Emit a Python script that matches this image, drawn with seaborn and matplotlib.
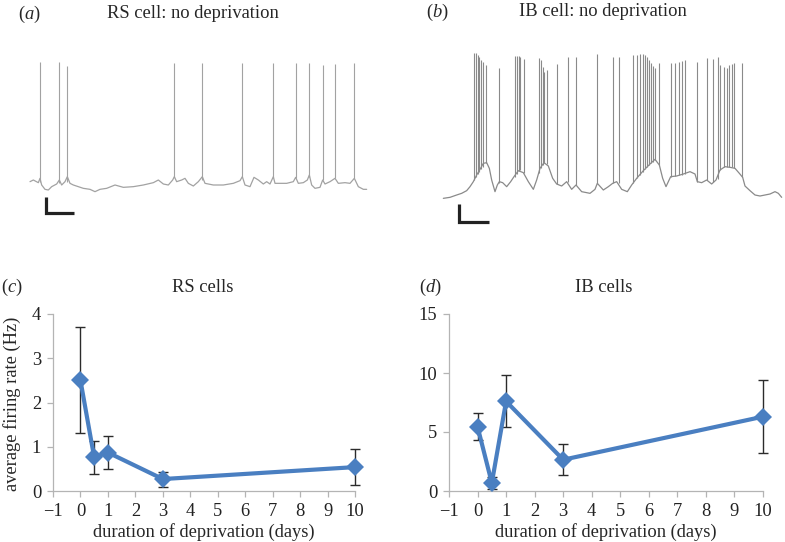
import matplotlib
matplotlib.use("Agg")
import matplotlib.pyplot as plt
import seaborn as sns
import pandas as pd

# ---- firing-rate summary (panels c, d) ----
days = [0, 0.5, 1, 3, 10]
rs_rate = [2.5, 0.76, 0.87, 0.27, 0.54]
rs_err = [1.2, 0.37, 0.37, 0.17, 0.40]
ib_rate = [5.45, 0.68, 7.6, 2.65, 6.3]
ib_err = [1.15, 0.47, 2.2, 1.3, 3.1]

# ---- example voltage traces (panels a, b), time in s, voltage in mV ----
rs_base_t = [0.90, 1.00, 1.15, 1.20, 1.25, 1.35, 1.45, 1.55, 1.70, 1.78, 1.85, 1.95,
             2.02, 2.10, 2.20, 2.35, 2.50, 2.70, 2.85, 3.00, 3.20, 3.45, 3.70, 4.00,
             4.30, 4.60, 4.75, 4.90, 5.05, 5.18, 5.23, 5.30, 5.45, 5.55, 5.65, 5.80,
             5.95, 6.07, 6.15, 6.40, 6.70, 7.00, 7.20, 7.27, 7.35, 7.50, 7.62, 7.75,
             7.90, 8.00, 8.10, 8.20, 8.25, 8.40, 8.60, 8.80, 8.87, 8.95, 9.10, 9.22,
             9.28, 9.35, 9.45, 9.60, 9.68, 9.75, 9.90, 10.05, 10.15, 10.35, 10.50,
             10.63, 10.75, 10.90, 11.00]
rs_base_v = [-59, -58, -59.6, -57, -61, -63.6, -64, -62, -60.4, -58, -61, -59,
             -56, -60, -61, -62, -63, -63.6, -65, -63.6, -63, -61, -62.4, -62,
             -61, -59.6, -58, -60.4, -61, -58, -56, -59, -58, -57, -60, -61.6,
             -59, -56, -60, -61, -61, -60, -58.4, -56, -61, -62, -56.4, -58,
             -60.4, -59, -60.4, -56, -60, -60, -60, -59, -56.4, -60, -59.6, -58,
             -55, -61, -63, -62.4, -58, -60.4, -59, -57, -60, -59.6, -60,
             -57, -62, -63.6, -63.6]
rs_spike_t = [1.20, 1.78, 2.02, 5.23, 6.07, 7.27, 8.20, 8.87, 9.28, 9.68, 10.05, 10.63]
rs_spike_base = [-59, -59.6, -59, -56, -58, -56, -56, -57, -56, -58, -57, -57]
rs_spike_peak = [12.8, 12.8, 10.6, 12, 12, 12.4, 12, 12.4, 12, 11, 11.6, 12]

ib_base_t = [1.60, 1.80, 2.00, 2.15, 2.30, 2.40, 2.50, 2.60, 2.70, 2.80, 2.90, 2.98,
             3.05, 3.15, 3.22, 3.28, 3.38, 3.50, 3.62, 3.72, 3.85, 4.00, 4.15, 4.30,
             4.40, 4.50, 4.62, 4.75, 4.88, 5.00, 5.15, 5.30, 5.45, 5.58, 5.75, 6.00,
             6.15, 6.22, 6.40, 6.55, 6.68, 6.80, 6.95, 7.12, 7.25, 7.40, 7.60, 7.80,
             7.95, 8.08, 8.18, 8.28, 8.42, 8.60, 8.80, 9.00, 9.15, 9.22, 9.35, 9.50,
             9.65, 9.78, 9.90, 10.05, 10.20, 10.35, 10.48, 10.58, 10.65, 10.80,
             10.95, 11.10, 11.25, 11.40, 11.55, 11.65, 11.75]
ib_base_v = [-69, -68.4, -67, -66, -64.4, -62, -59, -55, -51.6, -48, -47.6, -51,
             -58, -65, -61, -59, -59.6, -62, -59, -56, -52.4, -53.6, -59, -63.6,
             -58, -51, -47.6, -49.6, -57, -60.4, -61.6, -59, -63.6, -61, -65, -66,
             -63.6, -60, -64, -62, -60, -59, -63.6, -65, -61, -57, -52.4, -48.4,
             -45.6, -49, -57, -62, -56, -55.6, -54.4, -53, -54.4, -59, -59.6, -58,
             -60.4, -58, -52, -50, -50.4, -51, -54, -56.4, -61.6, -64.4,
             -67, -67.6, -67, -66.4, -65, -66, -68.4]
ib_spike_t = [2.53, 2.58, 2.63, 2.68, 2.73, 2.78, 2.87, 3.28, 3.75, 3.80, 3.86, 3.90,
              4.02, 4.46, 4.52, 4.58, 4.63, 4.70, 5.00, 5.33, 5.58, 6.22, 6.68, 6.88,
              7.30, 7.40, 7.50, 7.58, 7.65, 7.72, 7.78, 7.84, 7.90, 7.96, 8.08, 8.42,
              8.56, 8.68, 8.76, 8.84, 9.22, 9.50, 9.70, 9.85, 9.90, 10.02, 10.10,
              10.18, 10.26, 10.32, 10.55]
ib_spike_base = [-58, -56, -54.4, -53, -51.6, -50, -47.6, -59.6, -56, -54.4, -52.4, -52,
                 -53.6, -54, -51, -49, -47.6, -48.4, -60.4, -59, -61, -60, -60, -59.6,
                 -60, -57, -55, -53, -51.6, -50, -49, -48, -47, -46, -49, -56,
                 -55.6, -55, -55, -54.4, -59, -58, -59, -57.6, -52, -50.4, -50,
                 -50, -50.4, -51, -56]
ib_spike_peak = [18, 18.4, 17, 16, 14, 13, 11, 9, 16.4, 16.4, 16.4, 16,
                 14.4, 15.4, 14, 10, 7, 8, 11.6, 16, 16, 17.4, 16, 16,
                 17, 17, 17.6, 17.6, 17, 15.6, 14, 12, 10.4, 9, 12.2, 12.4,
                 12, 13, 13.6, 14, 13, 15, 14.8, 16, 11, 10, 9,
                 11, 11.6, 12, 12]

# scale bars: (start time, start voltage, time length, voltage length)
rs_bar = [1.38, -78, 0.84, 10]
ib_bar = [2.07, -83, 0.90, 10.6]

sns.set_theme(style="white")
plt.rcParams["font.family"] = "serif"
plt.rcParams["font.serif"] = ["Liberation Serif", "DejaVu Serif"]
plt.rcParams["mathtext.fontset"] = "custom"
plt.rcParams["mathtext.rm"] = "Liberation Serif"
plt.rcParams["mathtext.it"] = "Liberation Serif:italic"
plt.rcParams["axes.unicode_minus"] = True

W, H = 785, 542
fig = plt.figure(figsize=(W / 100, H / 100), dpi=100)


def px_axes(x0, y0, x1, y1):
    return fig.add_axes([x0 / W, 1 - y1 / H, (x1 - x0) / W, (y1 - y0) / H])


def draw_trace(ax, base_t, base_v, sp_t, sp_b, sp_p, bar, color, xmax):
    df = pd.DataFrame({"t": base_t, "v": base_v})
    sns.lineplot(data=df, x="t", y="v", ax=ax, color=color, lw=0.9,
                 sort=False, estimator=None)
    ax.vlines(sp_t, sp_b, sp_p, color=color, lw=0.8)
    t0, v0, dt, dv = bar
    ax.plot([t0, t0, t0 + dt], [v0 + dv, v0, v0], color="#222222", lw=2.3,
            solid_joinstyle="miter", solid_capstyle="butt")
    ax.set_xlim(0, xmax)
    ax.set_ylim(-88, 50)
    ax.axis("off")


ax_a = px_axes(0, 0, 390, 230)
draw_trace(ax_a, rs_base_t, rs_base_v, rs_spike_t, rs_spike_base, rs_spike_peak,
           rs_bar, "#a2a2a2", 11.7)
ax_b = px_axes(390, 0, 785, 230)
draw_trace(ax_b, ib_base_t, ib_base_v, ib_spike_t, ib_spike_base, ib_spike_peak,
           ib_bar, "#8a8a8a", 11.85)

fs = 13.3
fig.text(29 / W, 1 - 14 / H, "($\\it{a}$)", fontsize=fs, ha="center", va="center")
fig.text(193 / W, 1 - 14 / H, "RS cell: no deprivation", fontsize=fs, ha="center", va="center")
fig.text(437 / W, 1 - 12 / H, "($\\it{b}$)", fontsize=fs, ha="center", va="center")
fig.text(603 / W, 1 - 12 / H, "IB cell: no deprivation", fontsize=fs, ha="center", va="center")


def draw_rate(ax, rate, err, ymax, yticks):
    df = pd.DataFrame({"days": days, "rate": rate})
    ax.errorbar(days, rate, yerr=err, fmt="none", ecolor="#2b2b2b",
                elinewidth=1.0, capsize=3.8, capthick=1.0, zorder=2, clip_on=False)
    sns.lineplot(data=df, x="days", y="rate", ax=ax, color="#4a7fc1", lw=3,
                 marker="D", markersize=9, markeredgewidth=0, zorder=3, clip_on=False)
    ax.set_xlim(-1, 10)
    ax.set_ylim(0, ymax)
    ax.set_xticks(range(-1, 11))
    ax.set_yticks(yticks)
    for side in ["top", "right"]:
        ax.spines[side].set_visible(False)
    for side in ["left", "bottom"]:
        ax.spines[side].set_color("#b4b4b4")
        ax.spines[side].set_linewidth(0.9)
    ax.tick_params(axis="both", which="major", direction="out", length=4.5,
                   width=0.9, color="#b4b4b4", labelsize=fs, pad=4,
                   labelcolor="#222222", bottom=True, left=True)
    ax.set_xlabel("duration of deprivation (days)", fontsize=fs, labelpad=2)
    ax.set_ylabel("")


ax_c = px_axes(53, 314, 355, 491)
draw_rate(ax_c, rs_rate, rs_err, 4, [0, 1, 2, 3, 4])
ax_c.set_ylabel("average firing rate (Hz)", fontsize=fs)
ax_c.yaxis.set_label_coords(-0.105, 0.49)

ax_d = px_axes(449, 314, 763, 491)
draw_rate(ax_d, ib_rate, ib_err, 15, [0, 5, 10, 15])

fig.text(12 / W, 1 - 287 / H, "($\\it{c}$)", fontsize=fs, ha="center", va="center")
fig.text(203 / W, 1 - 287 / H, "RS cells", fontsize=fs, ha="center", va="center")
fig.text(430 / W, 1 - 287 / H, "($\\it{d}$)", fontsize=fs, ha="center", va="center")
fig.text(604 / W, 1 - 287 / H, "IB cells", fontsize=fs, ha="center", va="center")

fig.savefig("out.png", dpi=100)
